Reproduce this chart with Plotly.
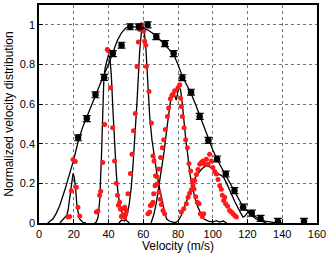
import plotly.graph_objects as go

# Broad distribution: measured points with error bars
pts_x = [22.5, 27.5, 32.5, 37.5, 42.5, 47.5, 52.5, 57.5, 62.5, 67.5, 72.5, 77.5, 82.5,
         87.5, 92.5, 97.5, 102.5, 107.5, 112.5, 117.5, 122.5, 127.5, 137.5, 152.5]
pts_y = [0.43, 0.527, 0.647, 0.735, 0.855, 0.897, 0.99, 0.99, 1.0, 0.94, 0.905, 0.855, 0.733,
         0.66, 0.538, 0.417, 0.323, 0.247, 0.163, 0.08, 0.05, 0.023, 0.008, 0.008]
pts_err = [0.015] * len(pts_x)

# Broad fit curve
broad_x = [5, 8, 10, 12, 15, 18, 20, 22.5, 25, 27.5, 30, 32.5, 35, 37.5, 40, 42.5, 45, 47.5,
           50, 52.5, 55, 57.5, 60, 62.5, 65, 67.5, 70, 72.5, 75, 77.5, 80, 82.5, 85, 87.5,
           90, 92.5, 95, 97.5, 100, 102.5, 105, 107.5, 110, 112.5, 115, 117.5, 120, 122.5,
           125, 127.5, 130, 135, 140]
broad_y = [0, 0.02, 0.05, 0.09, 0.17, 0.26, 0.32, 0.41, 0.48, 0.535, 0.59, 0.65, 0.7, 0.75,
           0.8, 0.86, 0.92, 0.96, 0.985, 0.99, 0.99, 0.985, 0.98, 0.975, 0.96, 0.945, 0.92,
           0.9, 0.875, 0.85, 0.8, 0.74, 0.7, 0.655, 0.6, 0.54, 0.48, 0.42, 0.37, 0.32, 0.28,
           0.245, 0.2, 0.16, 0.12, 0.08, 0.06, 0.045, 0.03, 0.02, 0.01, 0.003, 0]

# Narrow peak curves
p1_x = [12, 13, 14, 15, 16, 16.7, 17.7, 18.6, 19.6, 20.3, 21, 21.9, 23.4, 25, 27]
p1_y = [0, 0.01, 0.02, 0.025, 0.04, 0.063, 0.13, 0.21, 0.25, 0.23, 0.18, 0.08, 0.02, 0.005, 0]

p2_x = [32, 33, 34, 35, 36, 36.8, 37.3, 38, 39, 40, 40.8, 41.6, 42.6, 43.5, 44.5, 45.5,
        46.8, 48.3, 50.3, 52]
p2_y = [0, 0.005, 0.03, 0.12, 0.35, 0.55, 0.72, 0.78, 0.82, 0.85, 0.83, 0.75, 0.56, 0.4,
        0.25, 0.147, 0.08, 0.038, 0.013, 0]

p3_x = [46, 47.5, 49.3, 51, 52, 53.1, 54, 55, 56.4, 57.9, 59, 59.8, 60.5, 61.4, 62.7, 63.7,
        65, 66.5, 68, 69.5, 71, 72.4, 73.5, 75, 77, 79]
p3_y = [0, 0.015, 0.01, 0.05, 0.1, 0.18, 0.28, 0.41, 0.61, 0.86, 0.97, 1.0, 0.97, 0.9, 0.68,
        0.54, 0.42, 0.32, 0.24, 0.17, 0.1, 0.05, 0.02, 0.01, 0.005, 0]

p4_x = [64.5, 66, 67.5, 69, 70.5, 72, 73.5, 75, 76.2, 77.5, 79, 80.5, 81.5, 82.5, 83.3, 84.5,
        85.8, 87, 88.6, 90.5, 92.5, 95, 97.5, 100, 102, 104, 106, 108]
p4_y = [0, 0.04, 0.1, 0.18, 0.27, 0.36, 0.47, 0.58, 0.65, 0.66, 0.62, 0.69, 0.67, 0.6, 0.51,
        0.42, 0.33, 0.24, 0.17, 0.1, 0.06, 0.02, 0.01, 0.005, 0.012, 0.005, 0.01, 0]

p5_x = [78, 80, 82, 84, 86, 88, 90, 92.5, 94, 96.3, 98, 99.5, 101, 102.5, 104, 106, 108, 110,
        112.6, 115.5, 117.4, 118.5, 120.3, 122, 123.2, 125, 127, 129, 131]
p5_y = [0, 0.01, 0.04, 0.09, 0.14, 0.19, 0.23, 0.26, 0.275, 0.29, 0.285, 0.275, 0.265, 0.25,
        0.245, 0.235, 0.2, 0.16, 0.11, 0.06, 0.03, 0.035, 0.055, 0.04, 0.03, 0.02, 0.013,
        0.005, 0]

# Red measured points
red_x = [16.7, 17.6, 18.6, 19.6, 20.9, 21.5, 22.4, 23.4,
         33.0, 33.9, 34.9, 35.5, 36.7, 37.8, 37.4, 39.3, 40.1, 41.2, 42.4, 43.5, 44.5, 45.2,
         45.7, 46.4, 46.9, 47.4, 48.0, 48.3, 49.3, 49.3, 49.9, 50.3,
         51.2, 52.6, 53.5, 54.4, 55.4, 56.4, 57.2, 57.9, 58.9, 60.2, 60.8, 61.4, 61.8, 63.3,
         64.7, 65.6, 66.2, 67.1, 67.9, 69.0, 69.8, 70.4, 71.4, 72.3,
         62.7, 63.7, 64.1, 64.7, 65.2, 65.6, 66.0, 66.8, 67.9, 69.0, 70.0, 71.0, 71.8, 72.7,
         73.9, 74.6, 75.6, 76.5, 77.1, 78.1, 80.0, 81.0, 81.5, 81.9, 82.5, 83.5, 84.4, 85.4,
         86.3, 87.3, 88.2, 89.2, 90.2, 91.1, 92.1, 92.9, 94.0, 94.8,
         81.9, 83.3, 84.8, 85.8, 86.7, 87.7, 88.6, 89.6, 90.6, 91.5, 92.5, 93.4, 94.4, 95.3,
         96.3, 97.3, 98.2, 99.2, 100.1, 101.1, 102.1, 103.0, 104.0, 104.9, 105.5, 106.3,
         106.9, 107.4, 108.6, 109.7, 110.7, 111.7, 112.6, 113.6]
red_y = [0.03, 0.033, 0.163, 0.32, 0.31, 0.18, 0.08, 0.035,
         0.055, 0.06, 0.14, 0.16, 0.305, 0.497, 0.73, 0.875, 0.868, 0.683, 0.48, 0.313, 0.2,
         0.14, 0.09, 0.105, 0.07, 0.033, 0.072, 0.04, 0.08, 0.03, 0.045, 0.063,
         0.147, 0.25, 0.347, 0.466, 0.553, 0.79, 0.913, 0.977, 1.0, 0.967, 0.917, 0.897, 0.79,
         0.663, 0.505, 0.338, 0.313, 0.238, 0.197, 0.155, 0.12, 0.093, 0.063, 0.047,
         0.047, 0.055, 0.088, 0.09, 0.097, 0.105, 0.147, 0.188, 0.233, 0.272, 0.33, 0.38,
         0.42, 0.472, 0.538, 0.58, 0.627, 0.643, 0.65, 0.667, 0.683, 0.697, 0.63, 0.588,
         0.538, 0.48, 0.42, 0.38, 0.3, 0.263, 0.213, 0.172, 0.133, 0.105, 0.097, 0.047,
         0.033, 0.047,
         0.055, 0.072, 0.097, 0.13, 0.15, 0.168, 0.19, 0.215, 0.245, 0.27, 0.297, 0.305,
         0.313, 0.297, 0.322, 0.297, 0.347, 0.313, 0.28, 0.26, 0.247, 0.22, 0.188, 0.17,
         0.14, 0.113, 0.13, 0.097, 0.085, 0.063, 0.055, 0.047, 0.038, 0.03]

x_ticks = [0, 20, 40, 60, 80, 100, 120, 140, 160]
y_ticks = [0, 0.2, 0.4, 0.6, 0.8, 1]
y_tick_labels = ["0", "0.2", "0.4", "0.6", "0.8", "1"]

fig = go.Figure()
line_style = dict(color="black", width=1.3)
fig.add_trace(go.Scatter(x=broad_x, y=broad_y, mode="lines", line=line_style))
for px, py in [(p1_x, p1_y), (p2_x, p2_y), (p3_x, p3_y), (p4_x, p4_y), (p5_x, p5_y)]:
    fig.add_trace(go.Scatter(x=px, y=py, mode="lines", line=line_style))
fig.add_trace(go.Scatter(x=red_x, y=red_y, mode="markers",
                         marker=dict(color="#ff1a1a", size=5, line=dict(width=0))))
fig.add_trace(go.Scatter(x=pts_x, y=pts_y, mode="markers",
                         marker=dict(color="black", size=6.5, line=dict(width=0)),
                         error_y=dict(type="data", array=pts_err, color="black",
                                      thickness=1.2, width=4)))

axis_common = dict(showline=True, linecolor="black", linewidth=1.5, mirror=True,
                   ticks="inside", ticklen=4, tickcolor="black", showgrid=True,
                   gridcolor="rgba(0,0,0,0.55)", griddash="dot", gridwidth=1,
                   zeroline=False, tickfont=dict(size=11, color="black"))
fig.update_xaxes(range=[0, 160], tickvals=x_ticks,
                 title=dict(text="Velocity (m/s)", font=dict(size=12, color="black"), standoff=0),
                 **axis_common)
fig.update_yaxes(range=[0, 1.1], tickvals=y_ticks, ticktext=y_tick_labels,
                 title=dict(text="Normalized velocity distribution",
                            font=dict(size=12, color="black"), standoff=4),
                 **axis_common)
fig.update_layout(width=332, height=253, showlegend=False,
                  margin=dict(l=39, r=15, t=3, b=30),
                  plot_bgcolor="white", paper_bgcolor="white",
                  font=dict(family="Liberation Sans, Arial, sans-serif", size=11, color="black"))
fig.write_html("out.html", config={"displayModeBar": False},
               post_script="document.body.style.margin='0';document.body.style.overflow='hidden';")
